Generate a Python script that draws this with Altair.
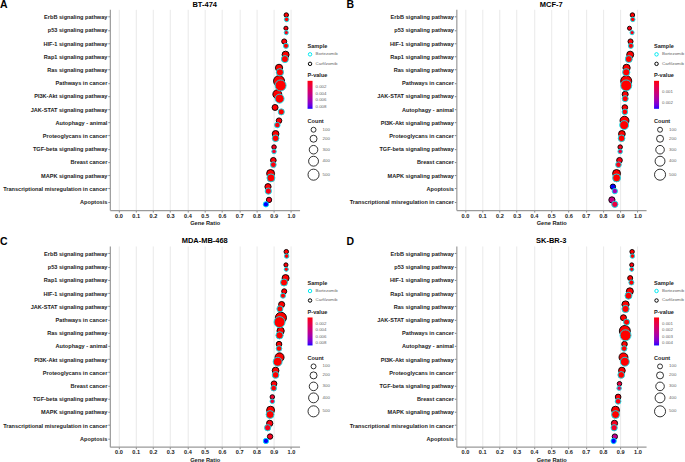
import altair as alt
import pandas as pd

FONT = "Liberation Sans"
SAMPLES = ["Carfilzomib", "Bortezomib"]

ERBB = "ErbB signaling pathway"
P53 = "p53 signaling pathway"
HIF1 = "HIF-1 signaling pathway"
RAP1 = "Rap1 signaling pathway"
RAS = "Ras signaling pathway"
CANCER = "Pathways in cancer"
PI3K = "PI3K-Akt signaling pathway"
JAK = "JAK-STAT signaling pathway"
AUTO = "Autophagy - animal"
PROTEO = "Proteoglycans in cancer"
TGF = "TGF-beta signaling pathway"
BREAST = "Breast cancer"
MAPK = "MAPK signaling pathway"
TRANS = "Transcriptional misregulation in cancer"
APOP = "Apoptosis"

# ---- BT-474 ----
bt474_pathways = [ERBB, P53, HIF1, RAP1, RAS, CANCER, PI3K, JAK, AUTO, PROTEO, TGF, BREAST, MAPK, TRANS, APOP]
bt474_ratio_carf = [0.973, 0.971, 0.961, 0.969, 0.931, 0.931, 0.921, 0.908, 0.931, 0.911, 0.902, 0.898, 0.882, 0.867, 0.873]
bt474_ratio_bort = [0.975, 0.973, 0.971, 0.965, 0.936, 0.940, 0.934, 0.944, 0.921, 0.911, 0.902, 0.898, 0.884, 0.869, 0.855]
bt474_count_carf = [83, 70, 105, 203, 216, 494, 326, 147, 128, 185, 85, 132, 259, 161, 119]
bt474_count_bort = [83, 70, 106, 203, 217, 499, 331, 153, 126, 185, 85, 132, 260, 162, 116]
bt474_p_carf = [2e-5, 2e-4, 1e-4, 1e-6, 1e-6, 1e-9, 1e-8, 1e-5, 1e-4, 1e-6, 5e-4, 1e-4, 1e-7, 1e-4, 6e-4]
bt474_p_bort = [1e-5, 3e-4, 2e-5, 1e-6, 1e-6, 1e-10, 1e-9, 1e-6, 2e-4, 1e-6, 9e-4, 2e-4, 1e-7, 3e-4, 0.0087]
bt474_p_ticks = [0.002, 0.004, 0.006, 0.008]

# ---- MCF-7 ----
mcf7_pathways = [ERBB, P53, HIF1, RAP1, RAS, CANCER, JAK, AUTO, PI3K, PROTEO, TGF, BREAST, MAPK, APOP, TRANS]
mcf7_ratio_carf = [0.971, 0.954, 0.960, 0.958, 0.937, 0.935, 0.929, 0.927, 0.925, 0.910, 0.900, 0.896, 0.879, 0.858, 0.852]
mcf7_ratio_bort = [0.973, 0.969, 0.962, 0.950, 0.935, 0.935, 0.929, 0.927, 0.923, 0.908, 0.900, 0.890, 0.879, 0.869, 0.869]
mcf7_count_carf = [83, 69, 105, 201, 217, 496, 150, 127, 327, 185, 85, 132, 258, 117, 158]
mcf7_count_bort = [83, 70, 105, 200, 217, 497, 150, 127, 327, 184, 85, 131, 258, 118, 162]
mcf7_p_carf = [1e-5, 1e-4, 1e-5, 1e-7, 1e-7, 1e-10, 1e-5, 1e-5, 1e-8, 1e-6, 1e-4, 1e-4, 1e-7, 0.0025, 0.0012]
mcf7_p_bort = [1e-5, 1e-4, 1e-5, 1e-7, 1e-7, 1e-10, 1e-5, 1e-5, 1e-8, 1e-6, 4e-4, 1e-4, 1e-7, 0.0017, 0.0005]
mcf7_p_ticks = [0.001, 0.002]

# ---- MDA-MB-468 ----
mda_pathways = [ERBB, P53, RAP1, HIF1, JAK, CANCER, RAS, AUTO, PI3K, PROTEO, BREAST, TGF, MAPK, TRANS, APOP]
mda_ratio_carf = [0.973, 0.971, 0.969, 0.961, 0.946, 0.942, 0.940, 0.931, 0.934, 0.911, 0.902, 0.892, 0.882, 0.877, 0.879]
mda_ratio_bort = [0.975, 0.973, 0.960, 0.954, 0.936, 0.934, 0.934, 0.931, 0.923, 0.911, 0.900, 0.892, 0.879, 0.865, 0.855]
mda_count_carf = [83, 70, 203, 105, 153, 500, 218, 128, 331, 185, 133, 84, 259, 163, 120]
mda_count_bort = [83, 70, 202, 104, 152, 496, 217, 128, 327, 185, 132, 84, 258, 161, 116]
mda_p_carf = [1e-5, 1e-4, 1e-7, 1e-5, 1e-6, 1e-10, 1e-7, 1e-5, 1e-8, 1e-6, 1e-4, 0.0010, 1e-7, 2e-4, 6e-4]
mda_p_bort = [1e-5, 1e-4, 1e-7, 1e-5, 1e-6, 1e-10, 1e-7, 1e-5, 1e-8, 1e-6, 1e-4, 0.0012, 1e-7, 5e-4, 0.0086]
mda_p_ticks = [0.002, 0.004, 0.006, 0.008]

# ---- SK-BR-3 ----
skbr3_pathways = [ERBB, P53, HIF1, RAP1, RAS, JAK, CANCER, AUTO, PI3K, PROTEO, TGF, BREAST, MAPK, TRANS, APOP]
skbr3_ratio_carf = [0.969, 0.967, 0.958, 0.956, 0.931, 0.919, 0.927, 0.925, 0.919, 0.910, 0.896, 0.888, 0.873, 0.867, 0.869]
skbr3_ratio_bort = [0.971, 0.967, 0.965, 0.948, 0.931, 0.937, 0.931, 0.923, 0.927, 0.906, 0.894, 0.888, 0.873, 0.865, 0.862]
skbr3_count_carf = [82, 70, 104, 201, 216, 149, 492, 127, 325, 185, 84, 131, 257, 161, 118]
skbr3_count_bort = [83, 70, 105, 199, 216, 152, 494, 126, 328, 184, 84, 131, 257, 161, 117]
skbr3_p_carf = [1e-5, 1e-4, 1e-5, 1e-7, 1e-7, 1e-5, 1e-10, 1e-5, 1e-8, 1e-6, 8e-4, 1e-4, 1e-7, 3e-4, 0.0022]
skbr3_p_bort = [1e-5, 1e-4, 1e-5, 1e-7, 1e-7, 1e-5, 1e-10, 1e-5, 1e-8, 1e-6, 9e-4, 1e-4, 1e-7, 4e-4, 0.0043]
skbr3_p_ticks = [0.001, 0.002, 0.003, 0.004]

x_ticks = [0.0, 0.1, 0.2, 0.3, 0.4, 0.5, 0.6, 0.7, 0.8, 0.9, 1.0]
count_ticks = [100, 200, 300, 400, 500]

PLOT_W = 190
PLOT_H = 201


def table(pathways, ratio_c, ratio_b, count_c, count_b, p_c, p_b):
    # Carfilzomib rows first so the Bortezomib points sit on top
    rows = []
    for name, r, n, p in zip(pathways, ratio_c, count_c, p_c):
        rows.append({"pathway": name, "sample": "Carfilzomib", "ratio": r, "count": n, "p": p})
    for name, r, n, p in zip(pathways, ratio_b, count_b, p_b):
        rows.append({"pathway": name, "sample": "Bortezomib", "ratio": r, "count": n, "p": p})
    return pd.DataFrame(rows)


def panel(letter, title, pathways, ratio_c, ratio_b, count_c, count_b, p_c, p_b, p_ticks):
    df = table(pathways, ratio_c, ratio_b, count_c, count_b, p_c, p_b)
    legend_common = dict(
        orient="none",
        legendX=PLOT_W + 8,
        titleFont=FONT,
        titleFontSize=5.6,
        titleFontWeight="bold",
        titleColor="#222222",
        titlePadding=2,
        labelFont=FONT,
        labelFontSize=4.4,
        labelColor="#666666",
        labelOffset=3,
        padding=0,
    )
    # the p-value legend runs from small (red, top) to large (blue, bottom),
    # so the fill scale works on -p and the labels show the magnitude
    dots = alt.Chart(df).transform_calculate(
        neg_p="-datum.p"
    ).mark_point(filled=False, opacity=1, strokeWidth=0.9).encode(
        x=alt.X(
            "ratio:Q",
            title="Gene Ratio",
            scale=alt.Scale(domain=[-0.05, 1.05], nice=False, zero=False),
            axis=alt.Axis(values=x_ticks, format=".1f", grid=True),
        ),
        y=alt.Y(
            "pathway:N",
            sort=pathways,
            title=None,
            scale=alt.Scale(paddingInner=0, paddingOuter=0.1),
            axis=alt.Axis(grid=False),
        ),
        yOffset=alt.YOffset(
            "sample:N", sort=SAMPLES,
            scale=alt.Scale(paddingInner=0, paddingOuter=1),
        ),
        color=alt.Color(
            "sample:N",
            scale=alt.Scale(domain=["Bortezomib", "Carfilzomib"], range=["#00E8F0", "#000000"]),
            legend=alt.Legend(
                title="Sample", legendY=35, symbolType="circle", symbolSize=12,
                symbolStrokeWidth=1, symbolFillColor="transparent", rowPadding=0.5,
                **legend_common
            ),
        ),
        fill=alt.Fill(
            "neg_p:Q",
            scale=alt.Scale(range=["#0000FF", "#FF0000"], interpolate="lab"),
            legend=alt.Legend(
                title="P-value", legendY=64, values=[-v for v in p_ticks],
                labelExpr="format(-datum.value, '.3f')",
                gradientLength=28, gradientThickness=5, gradientStrokeWidth=0,
                **legend_common
            ),
        ),
        size=alt.Size(
            "count:Q",
            scale=alt.Scale(domain=[0, 550], range=[0, 135]),
            legend=alt.Legend(
                title="Count", legendY=110, values=count_ticks, symbolType="circle",
                symbolFillColor="white", symbolStrokeColor="black", symbolStrokeWidth=0.8,
                rowPadding=-3, **legend_common
            ),
        ),
    )
    heads = pd.DataFrame({"text": [letter, title], "kind": ["tag", "title"]})
    tag = alt.Chart(heads).transform_filter("datum.kind == 'tag'").mark_text(
        font=FONT, fontSize=10.5, fontWeight="bold", align="left", baseline="alphabetic",
        color="#000000"
    ).encode(text="text:N", x=alt.value(-110), y=alt.value(-1))
    head = alt.Chart(heads).transform_filter("datum.kind == 'title'").mark_text(
        font=FONT, fontSize=7.5, fontWeight="bold", align="center", baseline="alphabetic",
        color="#000000"
    ).encode(text="text:N", x=alt.value(PLOT_W / 2), y=alt.value(-2.5))
    return alt.layer(dots, tag, head).properties(width=PLOT_W, height=PLOT_H)


pa = panel("A", "BT-474", bt474_pathways, bt474_ratio_carf, bt474_ratio_bort,
           bt474_count_carf, bt474_count_bort, bt474_p_carf, bt474_p_bort, bt474_p_ticks)
pb = panel("B", "MCF-7", mcf7_pathways, mcf7_ratio_carf, mcf7_ratio_bort,
           mcf7_count_carf, mcf7_count_bort, mcf7_p_carf, mcf7_p_bort, mcf7_p_ticks)
pc = panel("C", "MDA-MB-468", mda_pathways, mda_ratio_carf, mda_ratio_bort,
           mda_count_carf, mda_count_bort, mda_p_carf, mda_p_bort, mda_p_ticks)
pd_ = panel("D", "SK-BR-3", skbr3_pathways, skbr3_ratio_carf, skbr3_ratio_bort,
            skbr3_count_carf, skbr3_count_bort, skbr3_p_carf, skbr3_p_bort, skbr3_p_ticks)

indep = dict(x="independent", y="independent", yOffset="independent",
             color="independent", fill="independent", size="independent")

top = alt.hconcat(pa, pb, spacing=8).resolve_scale(**indep)
bottom = alt.hconcat(pc, pd_, spacing=8).resolve_scale(**indep)

chart = alt.vconcat(top, bottom, spacing=11).resolve_scale(**indep).properties(
    padding={"left": 0, "top": 0, "right": 0, "bottom": 0},
    background="white",
).configure_view(stroke=None).configure_axis(
    labelFont=FONT,
    labelFontSize=5.6,
    labelFontWeight="bold",
    labelColor="#1a1a1a",
    labelPadding=1,
    titleFont=FONT,
    titleFontSize=5.7,
    titleFontWeight="bold",
    titleColor="#1a1a1a",
    titlePadding=1,
    domainColor="#9a9a9a",
    domainWidth=1.2,
    tickColor="#333333",
    tickSize=2,
    tickWidth=0.6,
    gridColor="#e3e3e3",
    gridWidth=0.8,
)

chart.save("out.html", embed_options={"renderer": "svg", "actions": False})
